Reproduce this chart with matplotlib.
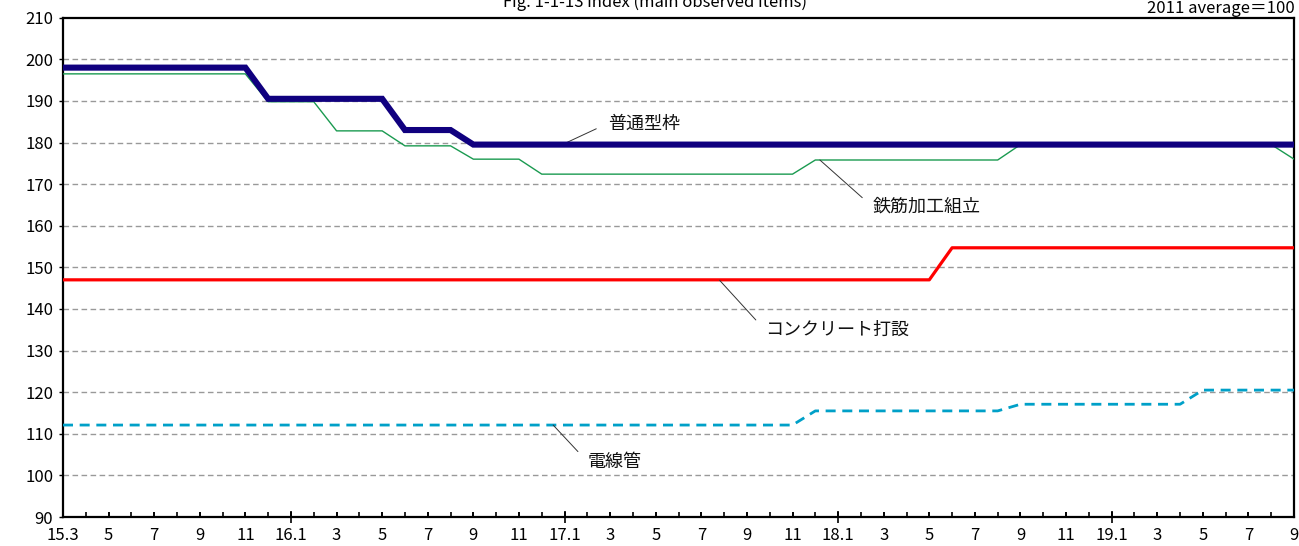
import matplotlib
matplotlib.use('Agg')
import matplotlib.pyplot as plt
import numpy as np

plt.rcParams['font.family'] = ['Noto Sans CJK JP', 'DejaVu Sans']

# months 15.3 .. 19.9 (index 0..54)
tick_labels = ['15.3', '5', '7', '9', '11', '16.1', '3', '5', '7', '9', '11',
               '17.1', '3', '5', '7', '9', '11', '18.1', '3', '5', '7', '9', '11',
               '19.1', '3', '5', '7', '9']
jan_months = [10, 22, 34, 46]

# 普通型枠
futsu = [198, 198, 198, 198, 198, 198, 198, 198, 198, 190.5,            # 15.3-15.12
         190.5, 190.5, 190.5, 190.5, 190.5, 183, 183, 183, 179.5, 179.5, 179.5, 179.5,  # 16
         179.5, 179.5, 179.5, 179.5, 179.5, 179.5, 179.5, 179.5, 179.5, 179.5, 179.5, 179.5,  # 17
         179.5, 179.5, 179.5, 179.5, 179.5, 179.5, 179.5, 179.5, 179.5, 179.5, 179.5, 179.5,  # 18
         179.5, 179.5, 179.5, 179.5, 179.5, 179.5, 179.5, 179.5, 179.5]     # 19.1-19.9
# 鉄筋加工組立
tekkin = [196.5, 196.5, 196.5, 196.5, 196.5, 196.5, 196.5, 196.5, 196.5, 189.8,
          189.8, 189.8, 182.8, 182.8, 182.8, 179.2, 179.2, 179.2, 176, 176, 176, 172.4,
          172.4, 172.4, 172.4, 172.4, 172.4, 172.4, 172.4, 172.4, 172.4, 172.4, 172.4, 175.8,
          175.8, 175.8, 175.8, 175.8, 175.8, 175.8, 175.8, 175.8, 179.5, 179.5, 179.5, 179.5,
          179.5, 179.5, 179.5, 179.5, 179.5, 179.5, 179.5, 179.5, 176]
# コンクリート打設
concrete = [147, 147, 147, 147, 147, 147, 147, 147, 147, 147,
            147, 147, 147, 147, 147, 147, 147, 147, 147, 147, 147, 147,
            147, 147, 147, 147, 147, 147, 147, 147, 147, 147, 147, 147,
            147, 147, 147, 147, 147, 154.7, 154.7, 154.7, 154.7, 154.7, 154.7, 154.7,
            154.7, 154.7, 154.7, 154.7, 154.7, 154.7, 154.7, 154.7, 154.7]
# 電線管
densen = [112.1, 112.1, 112.1, 112.1, 112.1, 112.1, 112.1, 112.1, 112.1, 112.1,
          112.1, 112.1, 112.1, 112.1, 112.1, 112.1, 112.1, 112.1, 112.1, 112.1, 112.1, 112.1,
          112.1, 112.1, 112.1, 112.1, 112.1, 112.1, 112.1, 112.1, 112.1, 112.1, 112.1, 115.5,
          115.5, 115.5, 115.5, 115.5, 115.5, 115.5, 115.5, 115.5, 117.1, 117.1, 117.1, 117.1,
          117.1, 117.1, 117.1, 117.1, 120.5, 120.5, 120.5, 120.5, 120.5]

# label: (series point, text position)
labels = {
    '普通型枠': ((21.9, 179.5), (23.9, 184.6)),
    '鉄筋加工組立': ((33.2, 175.8), (35.5, 164.6)),
    'コンクリート打設': ((28.8, 146.9), (30.8, 134.9)),
    '電線管': ((21.5, 112.1), (23.0, 103.3)),
}

x = np.arange(len(futsu))

fig = plt.figure(figsize=(12.99, 5.46), dpi=100)
ax = fig.add_axes([0.0485, 0.0531, 0.9477, 0.9145])

ax.plot(x, densen, color='#00a0c8', linewidth=2.0, dashes=(3.6, 2.4), zorder=3)
ax.plot(x, concrete, color='#ff0000', linewidth=2.3, zorder=3)
ax.plot(x, tekkin, color='#1a9a50', linewidth=1.0, zorder=3)
ax.plot(x, futsu, color='#10007f', linewidth=4.4, zorder=4,
        solid_joinstyle='miter')

for name, (pt, txt) in labels.items():
    ax.annotate(name, xy=pt, xytext=txt, ha='left', va='center', fontsize=13,
                color='#111111',
                arrowprops=dict(arrowstyle='-', color='#333333', lw=0.7,
                                shrinkA=7, shrinkB=0, relpos=(0, 0.5)))

ax.set_xlim(0, 54)
ax.set_ylim(90, 210)
ax.set_yticks(np.arange(90, 211, 10))
ax.tick_params(axis='y', direction='out', length=3, width=1, labelsize=12, pad=4)

ax.set_xticks(np.arange(0, 55, 2))
ax.set_xticklabels(tick_labels, fontsize=12)
ax.set_xticks(np.arange(0, 55, 1), minor=True)
ax.xaxis.remove_overlapping_locs = False
ax.tick_params(axis='x', which='both', direction='in', length=3.5, width=1.2, pad=7)

# January ticks cross the axis
jan_ax = ax.secondary_xaxis('bottom')
jan_ax.set_xticks(jan_months)
jan_ax.set_xticklabels([''] * len(jan_months))
jan_ax.tick_params(direction='inout', length=8, width=1.2)
jan_ax.spines['bottom'].set_visible(False)

for yv in range(100, 210, 10):
    ax.axhline(yv, color='#999999', linewidth=1.0, dashes=(4, 2.5), zorder=1)

for s in ax.spines.values():
    s.set_linewidth(1.6)
    s.set_color('black')

fig.text(0.504, 0.987, 'Fig. 1-1-13 index (main observed items)', ha='center',
         va='baseline', fontsize=12)
fig.text(0.997, 0.976, '2011 average＝100', ha='right', va='baseline', fontsize=12)

fig.savefig('out.png', dpi=100)
